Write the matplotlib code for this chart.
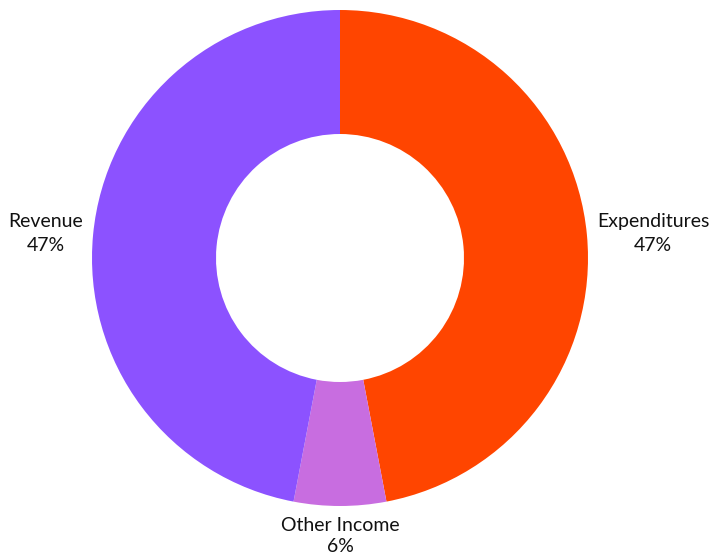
import numpy as np
import matplotlib
matplotlib.use("Agg")
import matplotlib.pyplot as plt

plt.rcParams['font.family'] = ['Lato', 'DejaVu Sans']

# data
labels = ['Expenditures', 'Other Income', 'Revenue']
values = [47, 6, 47]
colors = ['#FF4500', '#C86DE0', '#8C52FF']

fig = plt.figure(figsize=(7.11, 5.56), dpi=100)
ax = fig.add_axes([0, 0, 1, 1])

# pie laid out in pixel units so centre/radius match the reference
cx, cy, R = 340, 556 - 258, 248
wedges, texts = ax.pie(values, colors=colors, startangle=90, counterclock=False,
                       radius=R, center=(cx, cy),
                       labels=[f'{l}\n{v}%' for l, v in zip(labels, values)],
                       labeldistance=1.04,
                       wedgeprops=dict(width=R * 0.5, linewidth=0),
                       textprops=dict(fontsize=14, color='#111111',
                                      multialignment='center', linespacing=1.5))

# fix label alignment from each wedge's middle angle
for w, t in zip(wedges, texts):
    mid = np.deg2rad((w.theta1 + w.theta2) / 2)
    x, y = np.cos(mid), np.sin(mid)
    if abs(x) < 0.3:
        # bottom label sits under the ring, squeezed a little to stay in frame
        t.set_ha('center')
        t.set_va('top' if y < 0 else 'bottom')
        t.set_linespacing(1.3)
        t.set_position((cx, cy + R * 1.045 * np.sign(y)))
    else:
        t.set_ha('left' if x > 0 else 'right')
        t.set_va('center')

ax.set_xlim(0, 711)
ax.set_ylim(0, 556)
ax.set_aspect('equal')
ax.axis('off')

fig.savefig('out.png', dpi=100, facecolor='white')
